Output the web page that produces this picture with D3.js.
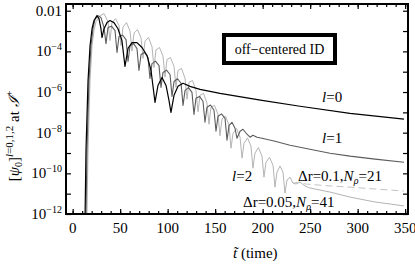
<!DOCTYPE html>
<html lang="en">
<head>
<meta charset="UTF-8"/>
<title>Off-centered ID decay</title>
<script src="https://d3js.org/d3.v7.min.js"></script>
<style>
    body { margin: 0; background: #fff; }
    svg text { font-family: "Liberation Serif", "DejaVu Serif", serif; fill: #000; }
    .line { fill: none; stroke-linejoin: round; }
</style>
</head>
<body>
<script>
    var w = 415;
    var h = 266;
    var box = {left: 66, right: 408, top: 4, bottom: 214};

    // tick values
    var xTicks = [0, 50, 100, 150, 200, 250, 300, 350];
    var yTickExps = [-2, -4, -6, -8, -10, -12];

    // l = 0 (black)
    var l0Data = [
        [13.1, 1e-12], [14.05, 1.4e-9], [16.2, 3.7e-6], [18.3, 1.9e-4], [20.4, 1.3e-3],
        [22.5, 3.3e-3], [25.6, 5.7e-3], [27.7, 4.1e-3], [29.8, 1.3e-3], [30.9, 4.8e-4],
        [33.0, 1.3e-3], [36.2, 2.6e-3], [39.3, 3.3e-3], [43.5, 2.6e-3], [47.7, 1.3e-3],
        [51.9, 3.4e-4], [55.1, 1.8e-5], [58.3, 1.4e-4], [62.5, 2.7e-4], [67.7, 2.7e-4],
        [73.0, 1.55e-4], [78.3, 6.3e-5], [82.5, 1.15e-5], [86.7, 3.1e-7], [89.8, 2.1e-6],
        [94.1, 5.2e-6], [98.3, 2.1e-6], [101.4, 3.9e-7], [103.5, 1.0e-7], [106.7, 6.9e-7],
        [110.9, 1.9e-6], [116.2, 2.7e-6], [123.5, 1.9e-6], [134.1, 1.35e-6], [155.1, 8.6e-7],
        [199.3, 3.9e-7], [239.3, 2.0e-7], [291.9, 9.0e-8], [348.8, 4.6e-8]
    ];

    // l = 1 (dark grey)
    var l1Data = [
        [14.05, 1e-12], [15.1, 1.4e-9], [17.2, 3.7e-6], [19.3, 1.9e-4], [21.4, 1.3e-3],
        [23.5, 3.7e-3], [26.7, 5.75e-3], [29.8, 4.6e-3], [33.0, 1.5e-3], [35.1, 2.4e-4],
        [37.2, 1.5e-3], [40.9, 1.74e-3], [44.6, 1.06e-3], [46.7, 8.8e-5], [48.8, 5.4e-4],
        [52.5, 6.4e-4], [56.2, 3.8e-4], [58.3, 3.2e-5], [60.4, 1.9e-4], [64.1, 2.4e-4],
        [67.7, 1.38e-4], [69.8, 1.15e-5], [72.0, 7.0e-5], [75.6, 8.8e-5], [79.3, 5.0e-5],
        [81.4, 4.7e-6], [83.5, 2.5e-5], [87.2, 3.3e-5], [90.9, 2.0e-5], [93.0, 1.7e-6],
        [95.1, 9.2e-6], [98.8, 1.2e-5], [102.5, 7.3e-6], [104.6, 6.1e-7], [106.7, 3.3e-6],
        [110.4, 4.5e-6], [114.1, 2.7e-6], [116.2, 2.2e-7], [118.3, 1.2e-6], [121.9, 1.66e-6],
        [125.6, 9.6e-7], [127.7, 8.0e-8], [129.8, 4.9e-7], [133.5, 6.1e-7], [137.2, 3.5e-7],
        [139.3, 3.25e-8], [141.4, 1.8e-7], [145.1, 2.3e-7], [148.8, 1.26e-7], [150.9, 1.18e-8],
        [153.0, 6.4e-8], [156.7, 8.4e-8], [160.4, 5.1e-8], [162.5, 4.3e-9], [164.6, 2.3e-8],
        [167.7, 3.25e-8], [170.9, 1.65e-8], [173.0, 5.3e-9], [176.2, 1.18e-8], [179.3, 1.48e-8],
        [183.5, 8.4e-9], [186.7, 6.0e-9], [189.8, 7.5e-9], [194.1, 6.0e-9], [199.3, 5.3e-9],
        [213.0, 3.8e-9], [228.8, 2.4e-9], [249.8, 1.54e-9], [270.9, 9.8e-10], [291.9, 7.0e-10],
        [318.3, 5.0e-10], [348.8, 3.5e-10]
    ];

    // l = 2, dr = 0.05, N_rho = 41 (light grey, solid)
    var l2FineData = [
        [15.1, 1e-12], [16.2, 1.4e-9], [18.3, 3.7e-6], [20.4, 1.9e-4], [22.5, 1.06e-3],
        [24.6, 2.9e-3], [28.8, 5.75e-3], [33.0, 7.2e-3], [37.2, 2.9e-3], [39.3, 3.4e-4],
        [41.4, 2.6e-3], [45.1, 4.1e-3], [48.8, 1.86e-3], [50.9, 1.94e-4], [53.0, 1.57e-3],
        [56.7, 2.6e-3], [60.4, 1.0e-3], [62.5, 1.04e-4], [64.6, 8.0e-4], [68.3, 1.18e-3],
        [72.0, 4.5e-4], [74.1, 4.5e-5], [76.2, 3.2e-4], [79.8, 4.8e-4], [83.5, 1.73e-4],
        [85.6, 1.62e-5], [87.7, 1.17e-4], [91.4, 1.55e-4], [95.1, 5.9e-5], [97.2, 5.5e-6],
        [99.3, 4.0e-5], [103.0, 5.0e-5], [106.7, 1.8e-5], [108.8, 1.7e-6], [110.9, 1.15e-5],
        [114.6, 1.45e-5], [118.3, 4.7e-6], [120.4, 4.4e-7], [122.5, 3.0e-6], [126.2, 3.7e-6],
        [129.8, 1.2e-6], [132.0, 1.06e-7], [134.1, 6.9e-7], [137.7, 8.6e-7], [141.4, 2.9e-7],
        [143.5, 2.6e-8], [145.6, 1.8e-7], [149.3, 2.2e-7], [153.0, 8.0e-8], [155.1, 7.1e-9],
        [157.2, 4.8e-8], [160.9, 6.4e-8], [164.6, 2.3e-8], [166.7, 1.73e-9], [168.8, 9.4e-9],
        [172.5, 1.6e-8], [176.2, 6.0e-9], [178.3, 5.6e-10], [180.4, 3.0e-9], [184.1, 5.5e-9],
        [187.7, 2.2e-9], [189.8, 1.8e-10], [191.9, 9.8e-10], [195.6, 1.85e-9], [199.3, 7.0e-10],
        [201.4, 6.5e-11], [203.5, 3.5e-10], [207.2, 6.2e-10], [210.9, 2.5e-10], [213.0, 2.1e-11],
        [215.1, 1.15e-10], [218.3, 2.3e-10], [221.4, 1.15e-10], [223.5, 1.07e-11], [225.6, 4.7e-11],
        [228.8, 6.5e-11], [231.9, 3.3e-11], [235.1, 3.0e-11], [239.3, 3.7e-11], [244.6, 2.4e-11],
        [249.8, 1.9e-11], [270.9, 1.2e-11], [291.9, 6.8e-12], [318.3, 3.9e-12], [348.8, 2.5e-12]
    ];

    // l = 2, dr = 0.1, N_rho = 21 (dashed tail)
    var l2CoarseData = [
        [231.9, 3.3e-11], [239.3, 3.7e-11], [244.6, 3.0e-11], [270.9, 2.4e-11], [291.9, 2.1e-11],
        [318.3, 1.7e-11], [348.8, 1.35e-11]
    ];

    var xScale = d3.scaleLinear().domain([-7, 353]).range([box.left, box.right]);
    var yScale = d3.scaleLog().domain([1e-12, 0.0214]).range([box.bottom, box.top]);

    var line = d3.line()
        .x(function(d) { return xScale(d[0]); })
        .y(function(d) { return yScale(d[1]); });

    var svg = d3.select("body")
        .append("svg")
        .attr("width", w)
        .attr("height", h);

    svg.append("clipPath").attr("id", "plotclip")
        .append("rect")
        .attr("x", box.left).attr("y", box.top)
        .attr("width", box.right - box.left).attr("height", box.bottom - box.top);

    var plot = svg.append("g").attr("clip-path", "url(#plotclip)");

    plot.append("path").datum(l2FineData).attr("class", "line")
        .attr("stroke", "#b4b4b4").attr("stroke-width", 1).attr("d", line);
    plot.append("path").datum(l2CoarseData).attr("class", "line")
        .attr("stroke", "#c4c4c4").attr("stroke-width", 1)
        .attr("stroke-dasharray", "7,4").attr("d", line);
    plot.append("path").datum(l1Data).attr("class", "line")
        .attr("stroke", "#5c5c5c").attr("stroke-width", 1.1).attr("d", line);
    plot.append("path").datum(l0Data).attr("class", "line")
        .attr("stroke", "#000").attr("stroke-width", 1.2).attr("d", line);

    // ticks pointing inward on all four sides
    var xMinor = d3.range(0, 351, 10);
    var yMinor = d3.range(-12, -1, 1).map(function(e) { return Math.pow(10, e); });

    function noDomain(g) { g.select(".domain").remove(); }

    svg.append("g")
        .attr("transform", "translate(0," + box.bottom + ")")
        .call(d3.axisBottom(xScale).tickValues(xMinor).tickSize(-3).tickFormat(""))
        .call(noDomain);
    svg.append("g")
        .attr("transform", "translate(0," + box.top + ")")
        .call(d3.axisTop(xScale).tickValues(xMinor).tickSize(-3).tickFormat(""))
        .call(noDomain);
    svg.append("g")
        .attr("transform", "translate(0," + box.bottom + ")")
        .call(d3.axisBottom(xScale).tickValues(xTicks).tickSize(-5).tickFormat(""))
        .call(noDomain);
    svg.append("g")
        .attr("transform", "translate(0," + box.top + ")")
        .call(d3.axisTop(xScale).tickValues(xTicks).tickSize(-5).tickFormat(""))
        .call(noDomain);
    svg.append("g")
        .attr("transform", "translate(" + box.left + ",0)")
        .call(d3.axisLeft(yScale).tickValues(yMinor).tickSize(-5).tickFormat(""))
        .call(noDomain);
    svg.append("g")
        .attr("transform", "translate(" + box.right + ",0)")
        .call(d3.axisRight(yScale).tickValues(yMinor).tickSize(-5).tickFormat(""))
        .call(noDomain);
    svg.selectAll(".tick line").attr("stroke", "#000").attr("stroke-width", 1.2);

    // frame
    svg.append("rect")
        .attr("x", box.left).attr("y", box.top)
        .attr("width", box.right - box.left).attr("height", box.bottom - box.top)
        .attr("fill", "none").attr("stroke", "#000").attr("stroke-width", 2);

    // x tick labels
    svg.selectAll(".xlab")
        .data(xTicks)
        .enter().append("text")
        .attr("class", "xlab")
        .attr("x", function(d) { return xScale(d); })
        .attr("y", 233)
        .attr("text-anchor", "middle")
        .style("font-size", "15px")
        .text(function(d) { return d; });

    // y tick labels
    var ylab = svg.selectAll(".ylab")
        .data(yTickExps)
        .enter().append("text")
        .attr("class", "ylab")
        .attr("x", 62)
        .attr("y", function(d) { return yScale(Math.pow(10, d)) + 5; })
        .attr("text-anchor", "end")
        .style("font-size", "15px");
    ylab.each(function(d) {
        var t = d3.select(this);
        if (d === -2) {
            t.text("0.01");
        } else {
            t.append("tspan").text("10");
            t.append("tspan").attr("dy", -6).style("font-size", "10px")
                .text("\u2212" + (-d));
        }
    });

    // y axis title
    var yt = svg.append("text")
        .attr("transform", "translate(19,136) rotate(-90)")
        .attr("text-anchor", "middle")
        .style("font-size", "15px");
    yt.append("tspan").text("[");
    yt.append("tspan").style("font-style", "italic").text("\u03c8");
    yt.append("tspan").attr("dy", 3).style("font-size", "10px").text("0");
    yt.append("tspan").attr("dy", -3).text("]");
    yt.append("tspan").attr("dy", -6).style("font-size", "11px").style("font-style", "italic").text("l");
    yt.append("tspan").style("font-size", "11px").text("=0,1,2");
    yt.append("tspan").attr("dy", 6).text(" at ");
    yt.append("tspan").style("font-style", "italic").text("\u2110");
    yt.append("tspan").attr("dy", -6).style("font-size", "10px").text("+");

    // x axis title (t with a tilde accent)
    var xt = svg.append("text")
        .attr("x", 233).attr("y", 258)
        .style("font-size", "15px");
    xt.append("tspan").style("font-style", "italic").text("t\u0303");
    xt.append("tspan").text(" (time)");

    // annotation box
    svg.append("rect")
        .attr("x", 224).attr("y", 35)
        .attr("width", 111).attr("height", 28)
        .attr("fill", "#fff").attr("stroke", "#000").attr("stroke-width", 4);
    svg.append("text")
        .attr("x", 279.5).attr("y", 54)
        .attr("text-anchor", "middle")
        .style("font-size", "14px")
        .text("off\u2212centered ID");

    // curve labels
    function lLabel(x, y, n) {
        var t = svg.append("text").attr("x", x).attr("y", y).style("font-size", "15px");
        t.append("tspan").style("font-style", "italic").text("l");
        t.append("tspan").text("=" + n);
    }
    lLabel(322, 102, 0);
    lLabel(322, 143, 1);
    lLabel(232, 181, 2);

    function resLabel(x, y, dr, n) {
        var t = svg.append("text").attr("x", x).attr("y", y).style("font-size", "15px");
        t.append("tspan").text("\u0394r=" + dr + ",");
        t.append("tspan").style("font-style", "italic").text("N");
        t.append("tspan").attr("dy", 3).style("font-size", "10px").style("font-style", "italic").text("\u03c1");
        t.append("tspan").attr("dy", -3).text("=" + n);
    }
    resLabel(298, 181, "0.1", 21);
    resLabel(243, 207, "0.05", 41);
</script>
</body>
</html>
